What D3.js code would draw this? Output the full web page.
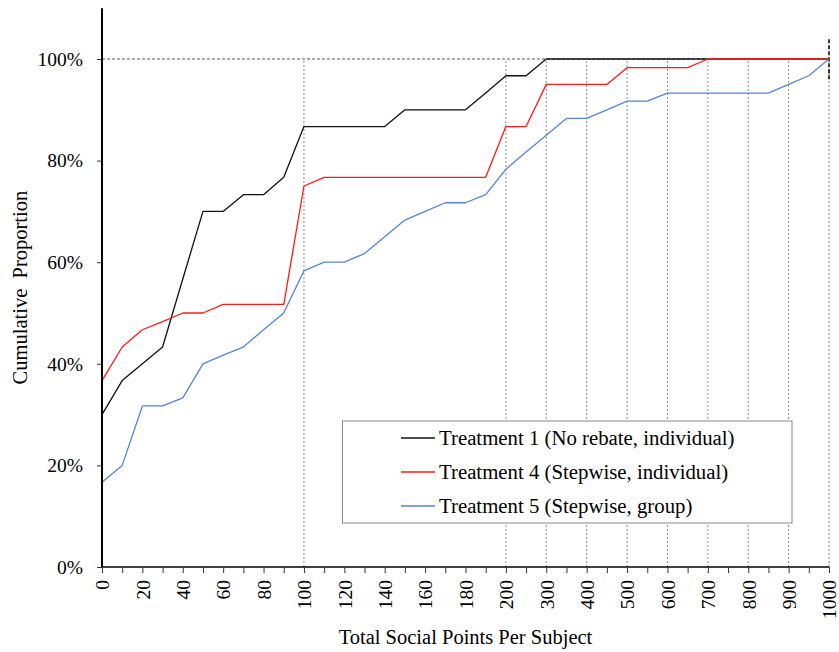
<!DOCTYPE html>
<html>
<head>
<meta charset="utf-8">
<script src="https://cdn.jsdelivr.net/npm/d3@7"></script>
<style>
  html, body { margin: 0; padding: 0; background: #fff; }
  svg { display: block; }
  svg text { font-family: "Liberation Serif", "Times New Roman", serif; }
</style>
</head>
<body>
<svg id="chart" width="839" height="652"></svg>
<script>
// ---- data ----
const categories = [0, 10, 20, 30, 40, 50, 60, 70, 80, 90, 100, 110, 120, 130, 140, 150, 160, 170, 180, 190, 200,
                    250, 300, 350, 400, 450, 500, 550, 600, 650, 700, 750, 800, 850, 900, 950, 1000];
const tickLabels = [0, 20, 40, 60, 80, 100, 120, 140, 160, 180, 200, 300, 400, 500, 600, 700, 800, 900, 1000];
const gridValues = [100, 200, 300, 400, 500, 600, 700, 800, 900, 1000];
const yTicks = [0, 0.2, 0.4, 0.6, 0.8, 1.0];
const seriesNames = ["Treatment 1 (No rebate, individual)", "Treatment 4 (Stepwise, individual)", "Treatment 5 (Stepwise, group)"];
const seriesColors = ["#111111", "#ff1a1a", "#5585d8"];
const treatment1 = [30, 36.7, 40, 43.3, 56.7, 70, 70, 73.3, 73.3, 76.7, 86.7, 86.7, 86.7, 86.7, 86.7, 90, 90, 90, 90, 93.3, 96.7,
                    96.7, 100, 100, 100, 100, 100, 100, 100, 100, 100, 100, 100, 100, 100, 100, 100];
const treatment4 = [36.7, 43.3, 46.7, 48.3, 50, 50, 51.7, 51.7, 51.7, 51.7, 75, 76.7, 76.7, 76.7, 76.7, 76.7, 76.7, 76.7, 76.7, 76.7, 86.7,
                    86.7, 95, 95, 95, 95, 98.3, 98.3, 98.3, 98.3, 100, 100, 100, 100, 100, 100, 100];
const treatment5 = [16.7, 20, 31.7, 31.7, 33.3, 40, 41.7, 43.3, 46.7, 50, 58.3, 60, 60, 61.7, 65, 68.3, 70, 71.7, 71.7, 73.3, 78.3,
                    81.7, 85, 88.3, 88.3, 90, 91.7, 91.7, 93.3, 93.3, 93.3, 93.3, 93.3, 93.3, 95, 96.7, 100];
const errorBar = { x: 1000, lo: 0.96, hi: 1.04 };

// ---- layout ----
const FONT = "'Liberation Serif', 'Times New Roman', serif";
const svg = d3.select("#chart");
const left = 102, right = 829, bottom = 567;
const x = d3.scalePoint().domain(categories).range([left, right]);
const y = d3.scaleLinear().domain([0, 1]).range([bottom, 59]);
const yTop = y(1.1);

// grid lines
svg.append("g").selectAll("line").data(gridValues).join("line")
  .attr("x1", d => x(d)).attr("x2", d => x(d))
  .attr("y1", y(0)).attr("y2", y(1))
  .attr("stroke", "#8c8c8c").attr("stroke-width", 1).attr("stroke-dasharray", "2,2");
svg.append("line")
  .attr("x1", left).attr("x2", right).attr("y1", y(1)).attr("y2", y(1))
  .attr("stroke", "#555").attr("stroke-width", 1).attr("stroke-dasharray", "3,2");

// error bar-like dashed segment
svg.append("line")
  .attr("x1", x(errorBar.x)).attr("x2", x(errorBar.x))
  .attr("y1", y(errorBar.lo)).attr("y2", y(errorBar.hi))
  .attr("stroke", "#000").attr("stroke-width", 1.5).attr("stroke-dasharray", "4,2");

// lines
const series = [treatment1, treatment4, treatment5];
const line = d3.line().x((d, i) => x(categories[i])).y(d => y(d / 100));
series.forEach((s, k) => {
  svg.append("path").datum(s)
    .attr("d", line)
    .attr("fill", "none")
    .attr("stroke", seriesColors[k])
    .attr("stroke-width", 1.3)
    .attr("stroke-linejoin", "round");
});

// axes
const xAxis = d3.axisBottom(x).tickSize(6).tickPadding(8)
  .tickFormat(d => tickLabels.includes(d) ? String(d) : "");
const gx = svg.append("g").attr("transform", `translate(0,${bottom})`).call(xAxis)
  .attr("font-family", FONT);
gx.select(".domain").attr("stroke", "#000").attr("stroke-width", 1.5).attr("d", `M${left},0H${right}`);
gx.selectAll(".tick line").attr("stroke", "#333").attr("stroke-width", 1);
gx.selectAll(".tick text")
  .attr("font-family", FONT)
  .attr("font-size", 19.5).attr("fill", "#000")
  .attr("transform", "rotate(-90)")
  .attr("text-anchor", "end")
  .attr("x", -13).attr("y", 0).attr("dy", "0.35em");

const yAxis = d3.axisLeft(y).tickValues(yTicks).tickSize(5).tickPadding(14).tickFormat(d3.format(".0%"));
const gy = svg.append("g").attr("transform", `translate(${left},0)`).call(yAxis)
  .attr("font-family", FONT);
gy.select(".domain").attr("stroke", "#000").attr("stroke-width", 2).attr("d", `M0,${bottom}V${yTop}`);
gy.selectAll(".tick line").attr("stroke", "#333").attr("stroke-width", 1);
gy.selectAll(".tick text").attr("font-family", FONT).attr("font-size", 19.5).attr("fill", "#000");

// axis titles
svg.append("text")
  .attr("x", (left + right) / 2).attr("y", 644)
  .attr("text-anchor", "middle").attr("font-size", 20.5).attr("fill", "#000")
  .attr("font-family", FONT)
  .text("Total Social Points Per Subject");
svg.append("text")
  .attr("transform", `translate(27,${(bottom + yTop) / 2}) rotate(-90)`)
  .attr("text-anchor", "middle").attr("font-size", 20.5).attr("fill", "#000")
  .attr("font-family", FONT)
  .attr("xml:space", "preserve")
  .text("Cumulative  Proportion");

// legend
const lg = svg.append("g");
lg.append("rect").attr("x", 342.5).attr("y", 421).attr("width", 449.5).attr("height", 102)
  .attr("fill", "#fff").attr("stroke", "#888").attr("stroke-width", 1);
const legendY = [438, 472, 506];
seriesNames.forEach((name, k) => {
  lg.append("line").attr("x1", 401).attr("x2", 435).attr("y1", legendY[k]).attr("y2", legendY[k])
    .attr("stroke", seriesColors[k]).attr("stroke-width", 1.3);
  lg.append("text").attr("x", 439).attr("y", legendY[k]).attr("dy", "0.35em")
    .attr("font-family", FONT)
    .attr("font-size", 20.8).attr("fill", "#000").text(name);
});
</script>
</body>
</html>
